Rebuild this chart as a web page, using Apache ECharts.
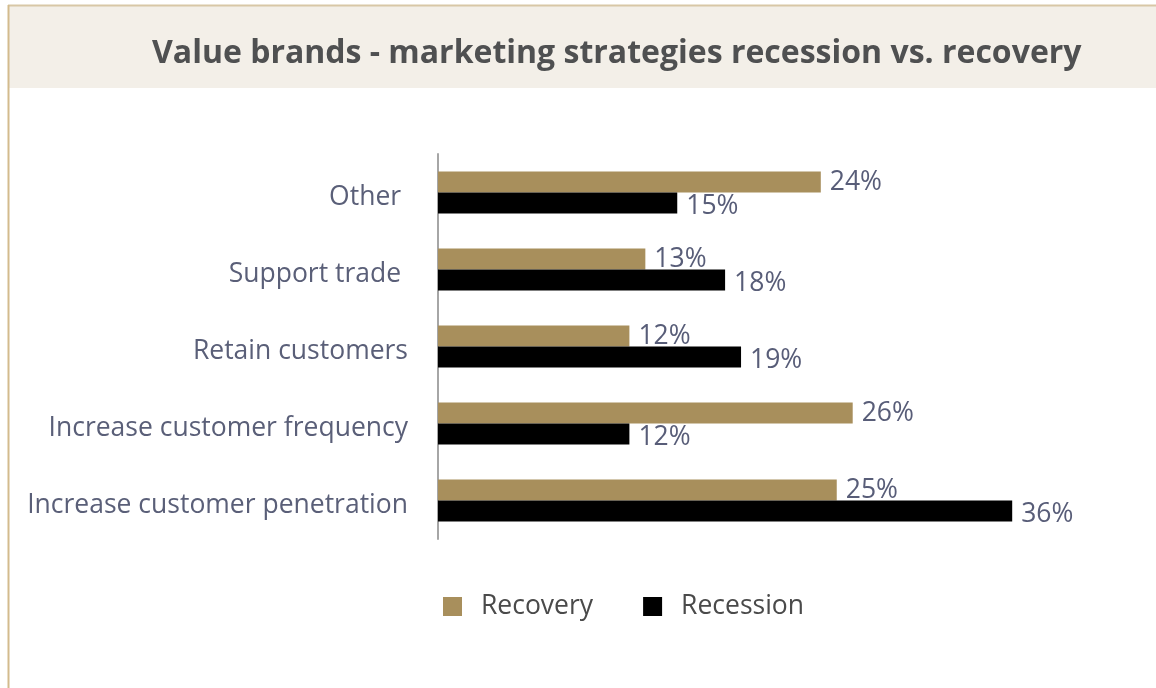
<!DOCTYPE html>
<html>
<head>
<meta charset="utf-8">
<style>
  html, body { margin: 0; padding: 0; background: #ffffff; }
  #chart { width: 1156px; height: 688px; }
</style>
<script src="https://cdn.jsdelivr.net/npm/echarts@6/dist/echarts.min.js"></script>
</head>
<body>
<div id="chart"></div>
<script>
// Categories listed bottom-to-top (ECharts category axis runs upward)
const categories = [
  'Increase customer penetration',
  'Increase customer frequency',
  'Retain customers',
  'Support trade ',
  'Other '
];
const recoveryValues  = [25, 26, 12, 13, 24];
const recessionValues = [36, 12, 19, 18, 15];
const seriesNames = ['Recovery', 'Recession'];
const titleText = 'Value brands - marketing strategies recession vs. recovery';

const chart = echarts.init(document.getElementById('chart'));

const valueLabel = {
  show: true,
  position: 'right',
  distance: 9,
  formatter: p => p.value + '%',
  color: '#585d78',
  fontFamily: 'Open Sans',
  fontSize: 26.5
};

chart.setOption({
  animation: false,
  backgroundColor: '#ffffff',
  title: {
    text: titleText,
    left: 147,
    top: 33,
    textStyle: {
      fontFamily: 'Open Sans',
      fontWeight: 'bold',
      fontSize: 32,
      color: '#4f5051'
    }
  },
  graphic: [
    { type: 'rect', z: -1, shape: { x: 8, y: 6, width: 1148, height: 82 }, style: { fill: '#f3efe8' } },
    { type: 'line', z: 0, shape: { x1: 8, y1: 5.5, x2: 1156, y2: 5.5 }, style: { stroke: '#d8c7a6', lineWidth: 2 } },
    { type: 'line', z: 0, shape: { x1: 8.5, y1: 5, x2: 8.5, y2: 688 }, style: { stroke: '#d3bb8d', lineWidth: 2 } }
  ],
  legend: {
    data: seriesNames,
    left: 438,
    top: 588,
    itemWidth: 19,
    itemHeight: 19,
    itemGap: 50,
    icon: 'rect',
    textStyle: {
      fontFamily: 'Open Sans',
      fontSize: 26.5,
      color: '#4a4a4a',
      padding: [0, 0, 0, 14]
    }
  },
  grid: {
    left: 438,
    top: 154,
    width: 638,
    height: 385
  },
  xAxis: {
    type: 'value',
    min: 0,
    max: 40,
    show: false
  },
  yAxis: {
    type: 'category',
    data: categories,
    axisLine: { show: true, lineStyle: { color: '#a6a6a6', width: 2 } },
    axisTick: { show: false },
    axisLabel: {
      margin: 30,
      formatter: v => '{c|' + v + '}',
      rich: {
        c: {
          padding: [9, 0, 0, 0],
          fontFamily: 'Open Sans',
          fontSize: 26.5,
          color: '#5a5f78'
        }
      }
    }
  },
  series: [
    {
      name: 'Recovery',
      type: 'bar',
      data: recoveryValues,
      barWidth: 21,
      barGap: '0%',
      itemStyle: { color: '#a88f5c' },
      label: Object.assign({}, valueLabel, { offset: [0, 0] })
    },
    {
      name: 'Recession',
      type: 'bar',
      data: recessionValues,
      barWidth: 21,
      barGap: '0%',
      itemStyle: { color: '#000000' },
      label: Object.assign({}, valueLabel, { offset: [0, 3] })
    }
  ]
});
</script>
</body>
</html>
